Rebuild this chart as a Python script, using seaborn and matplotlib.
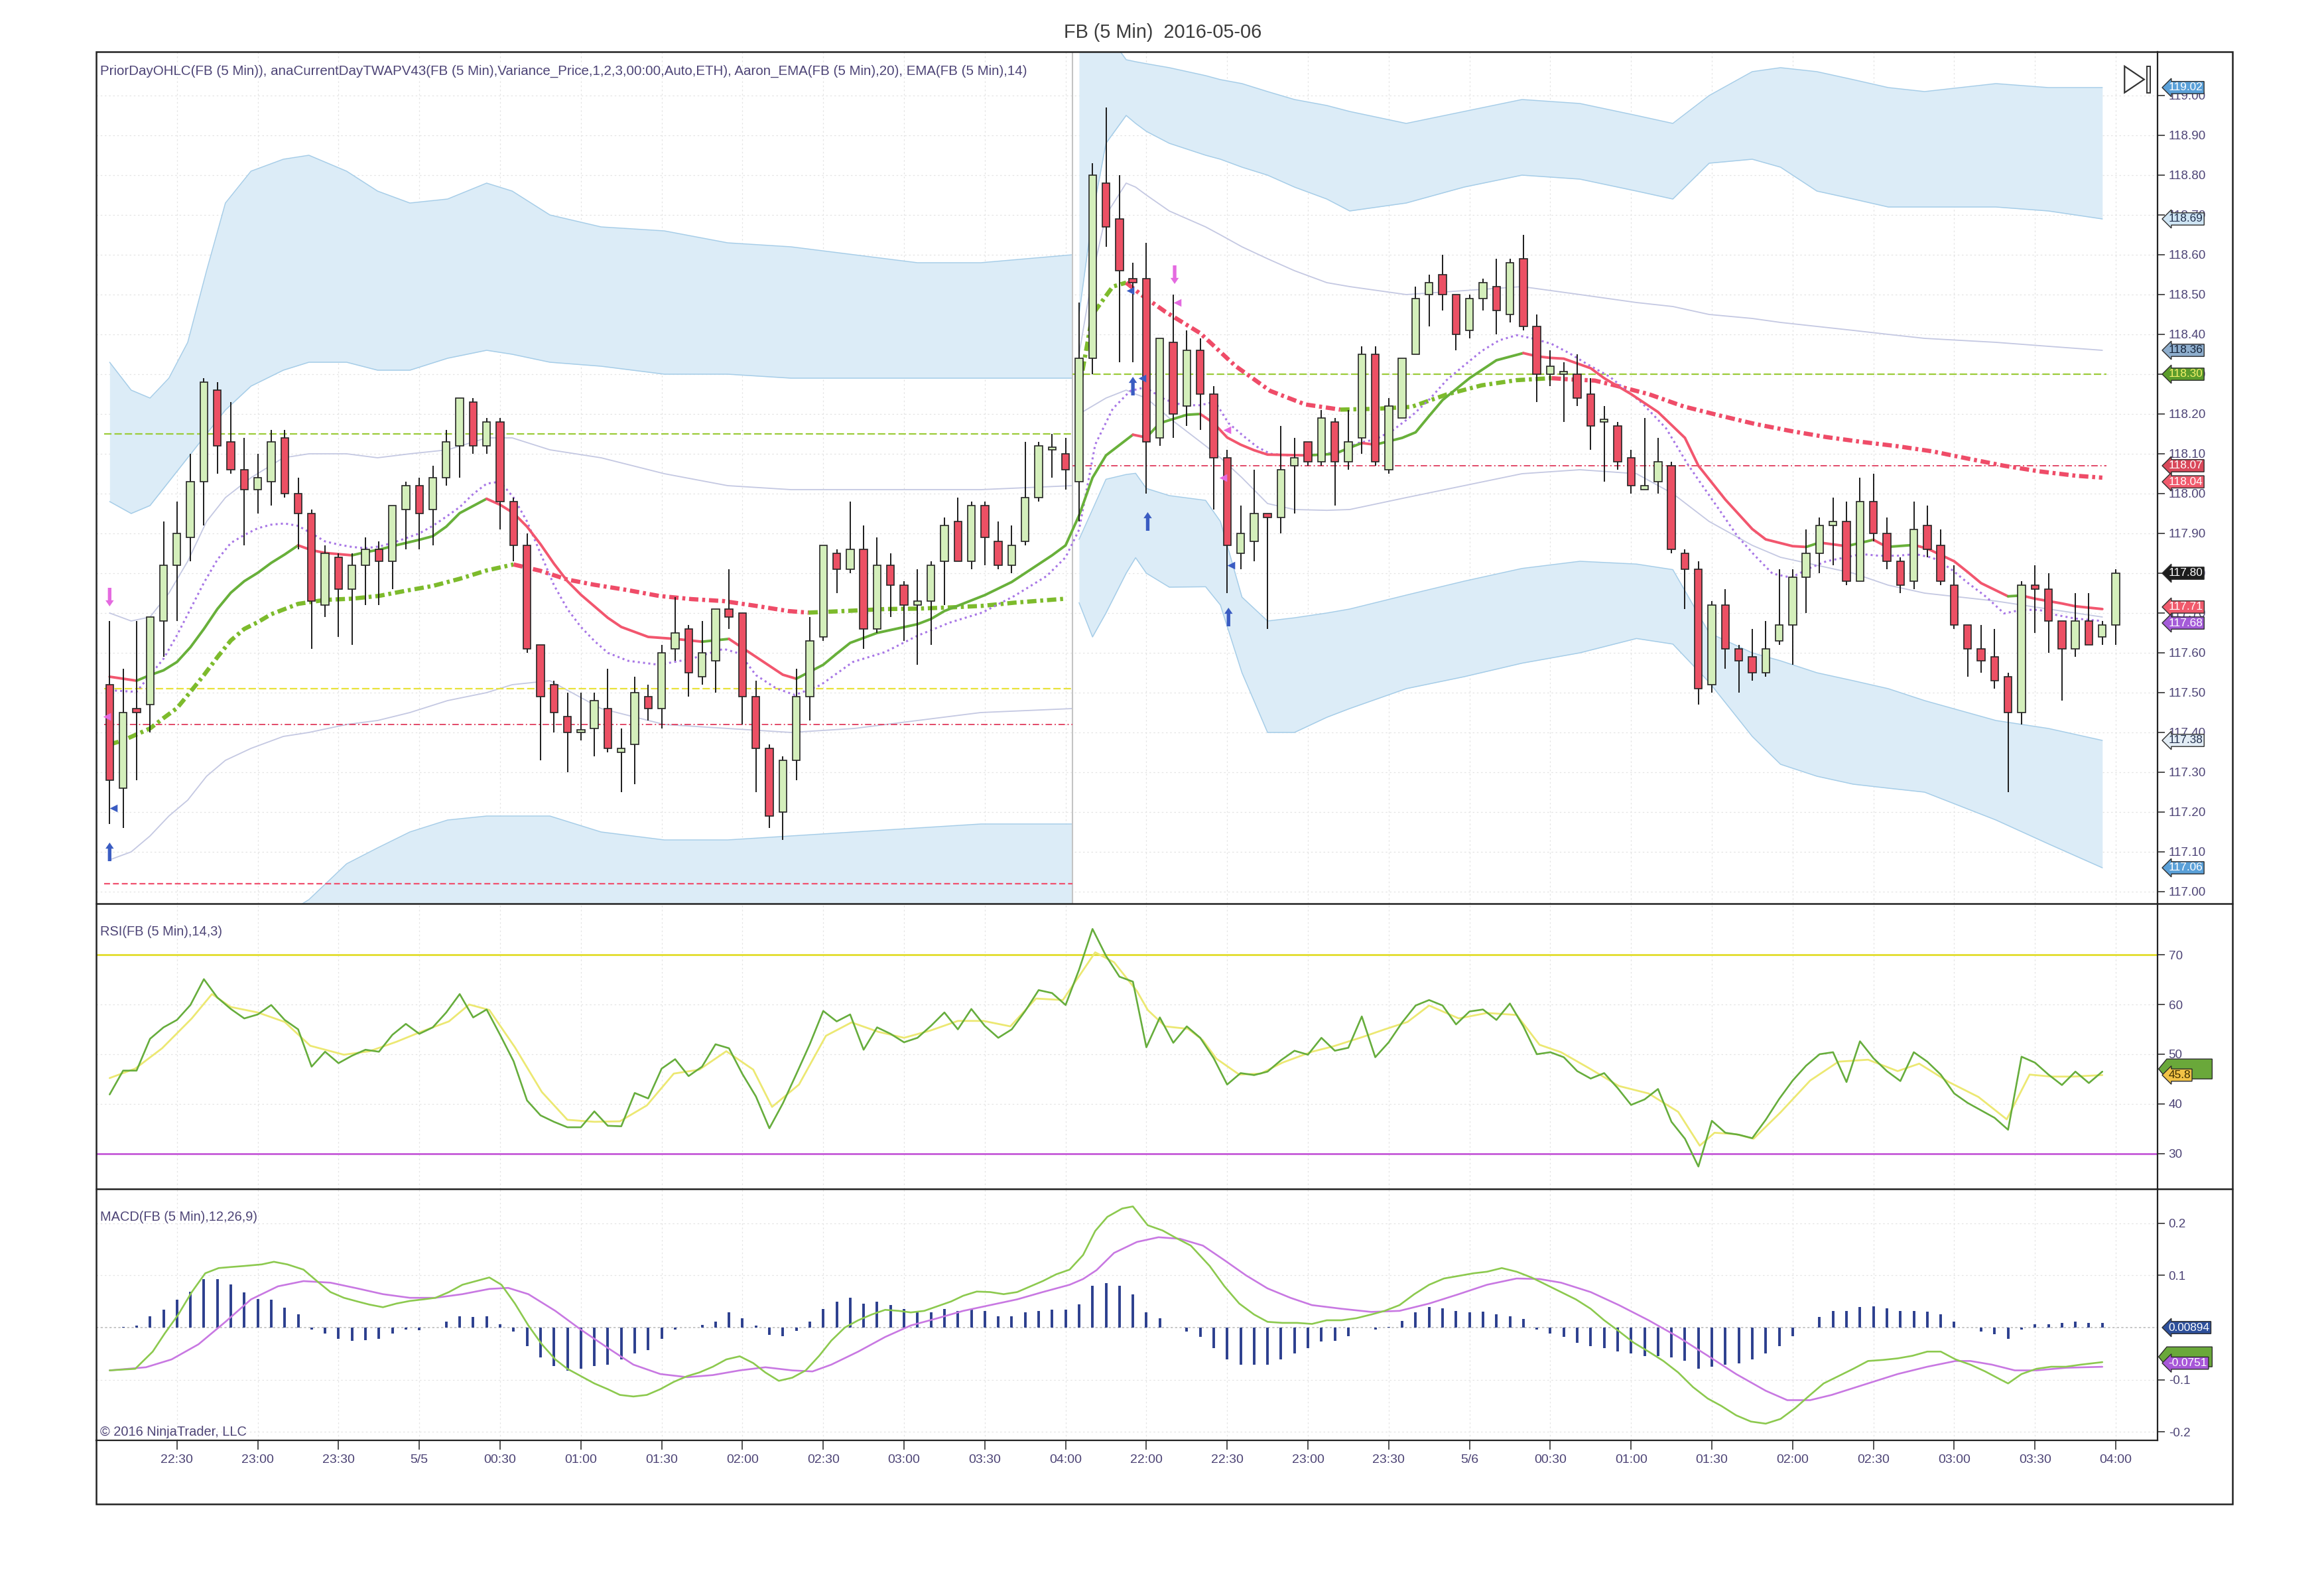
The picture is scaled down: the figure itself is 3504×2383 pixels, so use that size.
import numpy as np
import pandas as pd
import matplotlib
matplotlib.use("Agg")
import matplotlib.pyplot as plt
from matplotlib import font_manager
from matplotlib.lines import Line2D
from matplotlib.patches import Rectangle, Polygon
import seaborn as sns

# ---------------- candles: FB 5 min, bars 0-71 = session 1, 72-149 = session 2 ----------------
opens = [117.52, 117.26, 117.46, 117.47, 117.68, 117.82, 117.89, 118.03, 118.26, 118.13,
         118.06, 118.01, 118.03, 118.14, 118.00, 117.95, 117.72, 117.84, 117.76, 117.82,
         117.86, 117.83, 117.96, 118.02, 117.96, 118.04, 118.12, 118.23, 118.12, 118.18,
         117.98, 117.87, 117.62, 117.52, 117.44, 117.40, 117.41, 117.46, 117.35, 117.37,
         117.49, 117.46, 117.61, 117.66, 117.54, 117.58, 117.71, 117.70, 117.49, 117.36,
         117.20, 117.33, 117.49, 117.64, 117.85, 117.81, 117.86, 117.66, 117.82, 117.77,
         117.72, 117.73, 117.83, 117.93, 117.83, 117.97, 117.88, 117.82, 117.88, 117.99,
         118.11, 118.10,
         118.03, 118.34, 118.78, 118.69, 118.54, 118.54, 118.14, 118.38, 118.22, 118.36,
         118.25, 118.09, 117.85, 117.88, 117.95, 117.94, 118.07, 118.13, 118.08, 118.18,
         118.08, 118.14, 118.35, 118.06, 118.19, 118.35, 118.50, 118.55, 118.50, 118.41,
         118.49, 118.52, 118.45, 118.59, 118.42, 118.30, 118.30, 118.30, 118.25, 118.18,
         118.17, 118.09, 118.01, 118.03, 118.07, 117.85, 117.81, 117.52, 117.72, 117.61,
         117.59, 117.55, 117.63, 117.67, 117.79, 117.85, 117.92, 117.93, 117.78, 117.98,
         117.90, 117.83, 117.78, 117.92, 117.87, 117.77, 117.67, 117.61, 117.59, 117.54,
         117.45, 117.77, 117.76, 117.68, 117.61, 117.68, 117.64, 117.67]
highs = [117.68, 117.56, 117.68, 117.69, 117.93, 117.98, 118.10, 118.29, 118.28, 118.23,
         118.14, 118.10, 118.16, 118.16, 118.04, 117.96, 117.87, 117.85, 117.85, 117.89,
         117.88, 117.97, 118.03, 118.04, 118.07, 118.16, 118.24, 118.24, 118.19, 118.19,
         117.99, 117.90, 117.62, 117.53, 117.50, 117.50, 117.50, 117.56, 117.41, 117.54,
         117.52, 117.62, 117.74, 117.67, 117.68, 117.71, 117.81, 117.70, 117.53, 117.37,
         117.34, 117.56, 117.69, 117.87, 117.86, 117.98, 117.92, 117.89, 117.85, 117.78,
         117.81, 117.83, 117.94, 117.99, 117.98, 117.98, 117.93, 117.92, 118.13, 118.13,
         118.15, 118.14,
         118.48, 118.83, 118.97, 118.80, 118.58, 118.63, 118.39, 118.50, 118.41, 118.39,
         118.27, 118.11, 117.97, 118.06, 117.95, 118.17, 118.14, 118.13, 118.21, 118.19,
         118.21, 118.37, 118.37, 118.24, 118.34, 118.52, 118.55, 118.60, 118.50, 118.50,
         118.54, 118.59, 118.59, 118.65, 118.45, 118.36, 118.33, 118.35, 118.29, 118.22,
         118.18, 118.11, 118.19, 118.14, 118.08, 117.86, 117.83, 117.73, 117.76, 117.62,
         117.66, 117.68, 117.81, 117.81, 117.91, 117.94, 117.99, 117.98, 118.04, 118.05,
         117.94, 117.84, 117.98, 117.97, 117.91, 117.82, 117.67, 117.67, 117.66, 117.55,
         117.78, 117.82, 117.80, 117.68, 117.75, 117.75, 117.68, 117.81]
lows = [117.17, 117.16, 117.28, 117.40, 117.59, 117.68, 117.83, 117.92, 118.05, 118.05,
        117.87, 117.95, 117.97, 117.99, 117.86, 117.61, 117.69, 117.64, 117.62, 117.72,
        117.72, 117.76, 117.86, 117.86, 117.87, 118.02, 118.04, 118.10, 118.10, 117.91,
        117.83, 117.60, 117.33, 117.40, 117.30, 117.38, 117.34, 117.35, 117.25, 117.27,
        117.43, 117.41, 117.58, 117.49, 117.52, 117.50, 117.66, 117.42, 117.25, 117.16,
        117.13, 117.28, 117.43, 117.63, 117.75, 117.80, 117.61, 117.65, 117.69, 117.63,
        117.57, 117.62, 117.72, 117.83, 117.81, 117.82, 117.81, 117.80, 117.87, 117.98,
        118.04, 118.01,
        117.93, 118.30, 118.62, 118.33, 118.33, 118.00, 118.12, 118.14, 118.17, 118.16,
        117.96, 117.75, 117.81, 117.83, 117.66, 117.90, 117.95, 118.07, 118.07, 117.97,
        118.06, 118.10, 118.07, 118.05, 118.19, 118.35, 118.42, 118.46, 118.36, 118.39,
        118.46, 118.40, 118.43, 118.41, 118.23, 118.27, 118.18, 118.22, 118.11, 118.03,
        118.06, 118.00, 118.01, 118.00, 117.85, 117.71, 117.47, 117.50, 117.56, 117.50,
        117.53, 117.54, 117.62, 117.57, 117.70, 117.80, 117.82, 117.77, 117.78, 117.88,
        117.81, 117.75, 117.76, 117.84, 117.77, 117.66, 117.54, 117.55, 117.51, 117.25,
        117.42, 117.65, 117.60, 117.48, 117.59, 117.62, 117.62, 117.62]
closes = [117.28, 117.45, 117.45, 117.69, 117.82, 117.90, 118.03, 118.28, 118.12, 118.06,
          118.01, 118.04, 118.13, 118.00, 117.95, 117.73, 117.85, 117.76, 117.82, 117.86,
          117.83, 117.97, 118.02, 117.95, 118.04, 118.13, 118.24, 118.12, 118.18, 117.98,
          117.87, 117.61, 117.49, 117.45, 117.40, 117.40, 117.48, 117.36, 117.36, 117.50,
          117.46, 117.60, 117.65, 117.55, 117.60, 117.71, 117.69, 117.49, 117.36, 117.19,
          117.33, 117.49, 117.63, 117.87, 117.81, 117.86, 117.66, 117.82, 117.77, 117.72,
          117.73, 117.82, 117.92, 117.83, 117.97, 117.89, 117.82, 117.87, 117.99, 118.12,
          118.11, 118.06,
          118.34, 118.80, 118.67, 118.56, 118.53, 118.13, 118.39, 118.20, 118.36, 118.25,
          118.09, 117.87, 117.90, 117.95, 117.94, 118.06, 118.09, 118.08, 118.19, 118.08,
          118.13, 118.35, 118.08, 118.22, 118.34, 118.49, 118.53, 118.50, 118.40, 118.49,
          118.53, 118.46, 118.58, 118.42, 118.30, 118.32, 118.30, 118.24, 118.17, 118.18,
          118.08, 118.02, 118.02, 118.08, 117.86, 117.81, 117.51, 117.72, 117.61, 117.58,
          117.55, 117.61, 117.67, 117.79, 117.85, 117.92, 117.93, 117.78, 117.98, 117.90,
          117.83, 117.77, 117.91, 117.86, 117.78, 117.67, 117.61, 117.58, 117.53, 117.45,
          117.77, 117.76, 117.68, 117.61, 117.68, 117.62, 117.67, 117.80]

# ---------------- price-panel indicators, read as (bar, value) points ----------------
ema20_pts = [(0, 117.54), (2, 117.53), (3, 117.544), (4, 117.556), (5, 117.577), (6, 117.614), (7, 117.66),
             (8, 117.71), (9, 117.751), (10, 117.78), (11, 117.801), (12, 117.826), (13, 117.847), (14, 117.87),
             (15, 117.858), (16, 117.851), (18, 117.845), (19, 117.853), (20, 117.859), (21, 117.868),
             (23, 117.884), (24, 117.893), (25, 117.917), (26, 117.951), (28, 117.987), (29, 117.972),
             (30, 117.951), (31, 117.917), (32, 117.873), (33, 117.824), (34, 117.78), (35, 117.746),
             (36, 117.717), (37, 117.688), (38, 117.665), (40, 117.64), (42, 117.635), (44, 117.628),
             (46, 117.635), (48, 117.59), (50, 117.545), (51, 117.535), (53, 117.57), (54, 117.598),
             (55, 117.625), (57, 117.65), (60, 117.672), (61, 117.685), (62, 117.705), (65, 117.745),
             (67, 117.778), (70, 117.845), (71, 117.87), (72, 117.945), (73, 118.04), (74, 118.096),
             (76, 118.148), (77, 118.141), (78, 118.177), (80, 118.198), (81, 118.2), (82, 118.177),
             (83, 118.141), (84, 118.123), (85, 118.109), (86, 118.098), (89, 118.096), (91, 118.1),
             (92, 118.114), (93, 118.127), (94, 118.123), (96, 118.14), (97, 118.154), (98, 118.195),
             (99, 118.235), (101, 118.29), (103, 118.335), (105, 118.353), (106, 118.345), (107, 118.341),
             (108, 118.339), (110, 118.315), (111, 118.29), (113, 118.25), (115, 118.205), (117, 118.14),
             (118, 118.07), (120, 117.985), (122, 117.911), (123, 117.885), (125, 117.868), (126, 117.866),
             (127, 117.877), (129, 117.868), (131, 117.884), (132, 117.866), (134, 117.871), (135, 117.862),
             (137, 117.83), (138, 117.803), (139, 117.775), (141, 117.742), (142, 117.744), (143, 117.736),
             (145, 117.724), (146, 117.717), (148, 117.71)]
ema14_pts = [(0, 117.506), (2, 117.502), (3, 117.544), (4, 117.585), (5, 117.644), (6, 117.71), (7, 117.776),
             (8, 117.834), (9, 117.876), (10, 117.896), (11, 117.913), (12, 117.922), (13, 117.925),
             (14, 117.919), (15, 117.9), (16, 117.88), (17, 117.872), (18, 117.866), (19, 117.863),
             (20, 117.867), (21, 117.876), (22, 117.888), (23, 117.9), (24, 117.919), (25, 117.942),
             (26, 117.966), (27, 117.999), (28, 118.025), (29, 118.03), (30, 117.99), (31, 117.93),
             (32, 117.85), (33, 117.77), (34, 117.71), (35, 117.665), (36, 117.63), (37, 117.6),
             (38.5, 117.58), (40.8, 117.57), (43.2, 117.585), (45.6, 117.61), (46.8, 117.598), (48, 117.544),
             (49.5, 117.511), (50.9, 117.494), (52.8, 117.519), (55.2, 117.577), (57.6, 117.602), (60, 117.643),
             (62.4, 117.676), (64.8, 117.701), (67.2, 117.743), (69.6, 117.793), (71, 117.84), (72, 117.909),
             (73.2, 118.123), (74.5, 118.213), (75.8, 118.258), (76.9, 118.267), (78.4, 118.236),
             (79.7, 118.222), (81, 118.222), (82.1, 118.231), (83.1, 118.177), (84.2, 118.145), (85.2, 118.118),
             (86.2, 118.1), (87.5, 118.096), (88.8, 118.096), (90.1, 118.1), (91.4, 118.105), (92.7, 118.127),
             (94, 118.136), (95.3, 118.159), (96.7, 118.195), (98, 118.236), (99.3, 118.285), (100.6, 118.322),
             (101.9, 118.358), (103.2, 118.385), (104.5, 118.398), (105.8, 118.389), (107.1, 118.376),
             (108.4, 118.353), (109.7, 118.326), (111.4, 118.294), (113.8, 118.228), (115.6, 118.164),
             (117.2, 118.074), (118.3, 118.02), (119.6, 117.957), (120.9, 117.893), (122.2, 117.844),
             (123.5, 117.799), (124.9, 117.789), (126.2, 117.812), (127.5, 117.83), (128.8, 117.839),
             (130.1, 117.848), (131.4, 117.844), (132.8, 117.844), (134.1, 117.848), (135.4, 117.839),
             (136.7, 117.812), (138, 117.776), (139.4, 117.74), (140.7, 117.699), (142, 117.708),
             (143.3, 117.708), (144.6, 117.695), (146, 117.686), (148, 117.68)]
vwap1_pts = [(0, 117.37), (1, 117.38), (2, 117.395), (3, 117.41), (4, 117.436), (5, 117.461), (6, 117.502),
             (7, 117.544), (8, 117.589), (9, 117.631), (10, 117.66), (11, 117.677), (12, 117.697), (13, 117.71),
             (14, 117.723), (16, 117.733), (18, 117.736), (20, 117.743), (22, 117.756), (24, 117.768),
             (26, 117.786), (28, 117.807), (30, 117.822), (32, 117.806), (34, 117.784), (36, 117.771),
             (38.4, 117.758), (40.8, 117.743), (43.2, 117.735), (45.6, 117.73), (48, 117.718), (50.4, 117.705),
             (51.9, 117.701), (55.2, 117.706), (57.6, 117.71), (60, 117.711), (62.4, 117.714), (64.8, 117.718),
             (67.2, 117.726), (71, 117.736)]
vwap2_pts = [(72, 118.26), (73, 118.45), (74.5, 118.52), (75.5, 118.53), (76.6, 118.5), (78.4, 118.457),
             (81, 118.403), (83.6, 118.321), (86.2, 118.258), (88.8, 118.224), (91.4, 118.211), (94, 118.213),
             (96.7, 118.218), (99.3, 118.249), (101.9, 118.272), (104.5, 118.285), (107.1, 118.29),
             (108.4, 118.287), (110.3, 118.284), (111.9, 118.271), (114.3, 118.25), (116.9, 118.219),
             (119.6, 118.196), (122.2, 118.175), (124.9, 118.157), (127.5, 118.142), (130.1, 118.13),
             (132.8, 118.119), (135.4, 118.106), (138, 118.088), (140.7, 118.07), (143.3, 118.056),
             (146, 118.045), (148, 118.04)]

# variance bands around the session VWAP (outer shaded band + thin inner lines)
band1_x = [0, 1.6, 3, 4.4, 5.8, 7.2, 8.6, 10.5, 12.9, 14.8, 17.6, 19.9, 22.3, 25.1, 28, 29.9, 32.7, 36.5,
           41.2, 45.9, 50.6, 55.3, 60, 64.7, 71.5]
band1_up3 = [118.33, 118.26, 118.24, 118.29, 118.38, 118.56, 118.73, 118.81, 118.84, 118.85, 118.81, 118.76,
             118.73, 118.74, 118.78, 118.76, 118.70, 118.67, 118.66, 118.63, 118.62, 118.60, 118.58, 118.58, 118.60]
band1_up2 = [117.98, 117.95, 117.97, 118.03, 118.09, 118.15, 118.21, 118.27, 118.31, 118.33, 118.33, 118.31,
             118.31, 118.34, 118.36, 118.35, 118.33, 118.32, 118.30, 118.30, 118.29, 118.29, 118.29, 118.29, 118.29]
band1_up1 = [117.70, 117.68, 117.69, 117.75, 117.83, 117.93, 117.99, 118.04, 118.09, 118.10, 118.10, 118.09,
             118.10, 118.11, 118.14, 118.14, 118.11, 118.09, 118.05, 118.02, 118.01, 118.01, 118.01, 118.01, 118.02]
band1_lo1 = [117.08, 117.10, 117.14, 117.19, 117.23, 117.29, 117.33, 117.36, 117.39, 117.40, 117.42, 117.43,
             117.45, 117.48, 117.50, 117.52, 117.53, 117.46, 117.42, 117.41, 117.40, 117.41, 117.43, 117.45, 117.46]
band1_lo2 = [116.70, 116.71, 116.72, 116.74, 116.76, 116.79, 116.83, 116.88, 116.94, 116.98, 117.07, 117.11,
             117.15, 117.18, 117.19, 117.19, 117.19, 117.15, 117.13, 117.13, 117.14, 117.15, 117.16, 117.17, 117.17]
band1_lo3 = [116.40, 116.40, 116.40, 116.40, 116.40, 116.40, 116.40, 116.42, 116.45, 116.48, 116.55, 116.60,
             116.63, 116.66, 116.68, 116.68, 116.67, 116.64, 116.62, 116.61, 116.61, 116.62, 116.62, 116.63, 116.64]
band2_x = [72, 73, 74, 75.5, 76.2, 77, 78.7, 81.4, 82.5, 84.1, 86, 88, 90.4, 92.1, 96.3, 100.6, 104.9, 109.2,
           113.4, 116.1, 118.8, 122, 124.1, 126.8, 129.5, 132.1, 134.8, 140.1, 144, 148]
band2_up3 = [119.25, 119.22, 119.16, 119.09, 119.085, 119.08, 119.07, 119.05, 119.04, 119.03, 119.01, 118.99,
             118.975, 118.96, 118.93, 118.96, 118.99, 118.98, 118.95, 118.93, 119.00, 119.06, 119.07, 119.06,
             119.04, 119.02, 119.01, 119.03, 119.02, 119.02]
band2_up2 = [118.45, 118.70, 118.88, 118.95, 118.93, 118.91, 118.88, 118.85, 118.84, 118.82, 118.80, 118.77,
             118.74, 118.71, 118.73, 118.77, 118.80, 118.79, 118.76, 118.74, 118.83, 118.84, 118.82, 118.76,
             118.74, 118.72, 118.72, 118.72, 118.71, 118.69]
band2_up1 = [118.35, 118.55, 118.70, 118.78, 118.77, 118.75, 118.71, 118.67, 118.65, 118.62, 118.59, 118.56,
             118.53, 118.52, 118.50, 118.51, 118.52, 118.50, 118.48, 118.47, 118.45, 118.44, 118.43, 118.42,
             118.41, 118.40, 118.39, 118.38, 118.37, 118.36]
band2_lo1 = [118.20, 118.22, 118.24, 118.26, 118.25, 118.24, 118.19, 118.12, 118.09, 118.04, 117.975, 117.96,
             117.958, 117.96, 117.99, 118.02, 118.05, 118.06, 118.05, 118.00, 117.93, 117.87, 117.84, 117.82,
             117.80, 117.77, 117.75, 117.73, 117.71, 117.69]
band2_lo2 = [117.885, 117.96, 118.036, 118.048, 118.051, 118.013, 117.995, 117.983, 117.93, 117.74, 117.68,
             117.688, 117.70, 117.71, 117.745, 117.78, 117.812, 117.83, 117.823, 117.809, 117.65, 117.60, 117.58,
             117.55, 117.53, 117.51, 117.48, 117.43, 117.41, 117.38]
band2_lo3 = [117.726, 117.64, 117.70, 117.80, 117.839, 117.80, 117.765, 117.766, 117.72, 117.55, 117.40, 117.40,
             117.438, 117.46, 117.51, 117.54, 117.574, 117.60, 117.636, 117.622, 117.526, 117.39, 117.32, 117.29,
             117.27, 117.26, 117.25, 117.18, 117.12, 117.06]

# prior day levels: (price, first bar, last bar)
prior_high = [(118.15, -0.4, 71.5), (118.30, 71.5, 148.3)]
prior_open = [(117.51, -0.4, 71.5)]
prior_close = [(117.42, -0.4, 71.5), (118.07, 71.5, 148.3)]
prior_low = [(117.02, -0.4, 71.5)]

# signal markers (bar, price)
up_arrows = [(0, 117.10), (76.0, 118.27), (77.1, 117.93), (83.1, 117.69)]
down_arrows = [(0, 117.74), (79.1, 118.55)]
blue_ticks = [(0.3, 117.21), (75.8, 118.51), (76.7, 118.29), (83.3, 117.82)]
pink_ticks = [(-0.2, 117.44), (79.3, 118.48), (83.0, 118.16), (82.7, 118.04)]

# ---------------- RSI(14,3) ----------------
rsi = [41.9, 46.7, 46.7, 53.1, 55.4, 56.9, 59.9, 65.1, 61.4, 59.1,
       57.2, 58.0, 59.9, 56.9, 55.0, 47.5, 50.5, 48.2, 49.7, 50.9,
       50.5, 53.9, 56.1, 54.1, 55.4, 58.4, 62.1, 57.4, 59.0, 53.9,
       48.6, 40.7, 37.7, 36.4, 35.3, 35.3, 38.5, 35.6, 35.5, 42.2,
       41.1, 47.1, 49.0, 45.6, 47.5, 52.0, 51.2, 46.0, 41.5, 35.1,
       40.1, 46.0, 52.0, 58.7, 56.6, 58.0, 50.9, 55.4, 54.1, 52.4,
       53.3, 55.7, 58.4, 55.0, 59.1, 55.7, 53.3, 55.0, 58.7, 62.9,
       62.3, 59.9, 67.0, 75.2, 69.8, 65.6, 64.6, 51.4, 57.4, 52.3,
       55.6, 53.3, 49.2, 43.9, 46.2, 45.8, 46.5, 48.8, 50.7, 49.9,
       53.3, 50.7, 51.3, 57.6, 49.4, 52.4, 56.4, 59.8, 60.9, 59.8,
       56.0, 58.6, 59.0, 56.9, 60.2, 55.6, 50.0, 50.4, 49.4, 46.6,
       45.1, 46.2, 43.2, 39.8, 40.9, 43.0, 36.4, 33.0, 27.4, 36.6,
       34.2, 33.8, 33.1, 36.8, 41.0, 44.7, 47.7, 50.0, 50.4, 44.4,
       52.6, 49.2, 46.6, 44.6, 50.4, 48.5, 45.9, 42.1, 40.2, 38.7,
       37.2, 34.8, 49.5, 48.3, 45.9, 43.8, 46.5, 44.2, 46.5]
rsi_avg_pts = [(0, 45.2), (1.9, 47.1), (3.9, 51.2), (6.1, 57.2), (7.6, 62.1), (9, 59.5), (11, 58.4), (13, 56.5),
               (14.9, 51.7), (17.4, 49.9), (19.3, 50.6), (21.3, 52.5), (23.3, 54.7), (25.2, 56.6), (26.7, 60.0),
               (28.2, 58.9), (30.1, 51.4), (32.1, 42.4), (34, 36.8), (36, 36.4), (37.9, 36.5), (39.9, 39.7),
               (41.9, 46.1), (43.8, 46.9), (45.8, 50.6), (47.8, 46.9), (49.2, 39.4), (51.2, 43.9), (53.2, 53.7),
               (55.1, 56.4), (57.1, 54.5), (59, 53.3), (61, 54.8), (63, 56.7), (64.9, 56.7), (66.9, 55.6),
               (68.8, 61.2), (70.8, 60.9), (73.2, 70.5), (74.6, 68.5), (76.3, 62.7), (77.1, 58.9), (78.4, 55.6),
               (80.1, 55.1), (81.2, 52.8), (82.2, 49.1), (83.9, 45.9), (85.5, 46.1), (87.1, 48.3), (89.3, 50.5),
               (90.9, 51.6), (93.1, 53.5), (94.7, 55.0), (96.4, 56.5), (98, 59.8), (100.2, 57.2), (102.3, 58.3),
               (104.5, 57.9), (106.2, 51.9), (107.8, 50.4), (110, 47.0), (112.1, 43.6), (114.3, 42.1),
               (116.5, 38.4), (118.1, 31.6), (119.2, 34.2), (120.8, 33.9), (122.1, 33.0), (124.1, 38.3),
               (126.3, 44.7), (128.4, 48.5), (130.6, 48.9), (132.8, 46.6), (134.4, 48.1), (136.6, 44.4),
               (138.8, 41.4), (140.9, 36.9), (142.6, 45.9), (144.2, 45.5), (145.8, 45.5), (148, 45.8)]

# ---------------- MACD(12,26,9) ----------------
macd_pts = [(0, -0.082), (1.9, -0.079), (3.2, -0.046), (4.1, -0.011), (5.1, 0.025), (6.1, 0.068), (7.1, 0.104),
            (8.1, 0.114), (9, 0.116), (10, 0.118), (11.3, 0.121), (12.2, 0.126), (13.2, 0.121), (14.4, 0.111),
            (15.4, 0.089), (16.4, 0.068), (17.4, 0.057), (18.4, 0.05), (19.3, 0.044), (20.3, 0.039),
            (21.3, 0.046), (22.3, 0.051), (23.3, 0.054), (24.2, 0.057), (25.2, 0.068), (26.2, 0.082),
            (27.2, 0.089), (28.2, 0.096), (29.1, 0.082), (30.1, 0.046), (31.1, 0.004), (32.1, -0.032),
            (33.1, -0.061), (34, -0.079), (35, -0.093), (36, -0.107), (37, -0.118), (37.9, -0.129),
            (38.9, -0.132), (39.9, -0.129), (40.9, -0.118), (41.9, -0.104), (42.9, -0.093), (43.8, -0.086),
            (44.8, -0.075), (45.8, -0.061), (46.8, -0.055), (47.8, -0.068), (48.7, -0.086), (49.7, -0.102),
            (50.7, -0.096), (51.7, -0.082), (52.7, -0.054), (53.6, -0.025), (54.6, 0.0), (55.6, 0.014),
            (56.6, 0.025), (57.6, 0.034), (58.6, 0.032), (59.5, 0.029), (60.5, 0.032), (61.5, 0.041),
            (62.5, 0.05), (63.4, 0.061), (64.4, 0.069), (65.4, 0.068), (66.4, 0.064), (67.4, 0.068),
            (68.4, 0.079), (69.3, 0.089), (70.3, 0.102), (71.3, 0.111), (72.3, 0.139), (73.2, 0.185),
            (74.1, 0.212), (75.2, 0.228), (76, 0.232), (77.1, 0.196), (78.2, 0.186), (79.25, 0.171),
            (80.3, 0.157), (81.7, 0.118), (82.8, 0.079), (83.9, 0.046), (85, 0.025), (86, 0.011), (87.1, 0.009),
            (88.2, 0.009), (89.3, 0.007), (90.4, 0.014), (91.5, 0.014), (92.6, 0.018), (93.7, 0.025),
            (94.7, 0.032), (95.8, 0.043), (96.9, 0.064), (98, 0.082), (99.1, 0.094), (100.2, 0.099),
            (101.3, 0.104), (102.3, 0.107), (103.4, 0.114), (104.5, 0.107), (105.6, 0.096), (106.7, 0.082),
            (107.8, 0.068), (108.9, 0.054), (110, 0.036), (111, 0.014), (112.1, -0.007), (113.2, -0.029),
            (114.3, -0.046), (115.4, -0.064), (116.5, -0.086), (117.6, -0.114), (118.7, -0.136),
            (119.7, -0.15), (120.8, -0.168), (121.9, -0.18), (123, -0.184), (124.1, -0.175), (125.2, -0.154),
            (126.3, -0.129), (127.3, -0.107), (128.4, -0.093), (129.5, -0.079), (130.6, -0.064),
            (131.7, -0.062), (132.8, -0.059), (133.9, -0.054), (135, -0.046), (136, -0.046), (137.1, -0.061),
            (138.2, -0.071), (139.3, -0.084), (140.4, -0.099), (141, -0.107), (142, -0.089), (143.1, -0.079),
            (144.2, -0.075), (145.3, -0.075), (146.4, -0.071), (148, -0.0662)]
macd_avg_pts = [(0, -0.082), (2.7, -0.076), (4.6, -0.061), (6.6, -0.032), (8.6, 0.011), (10.5, 0.054),
                (12.5, 0.079), (14.4, 0.089), (16.4, 0.086), (18.4, 0.075), (20.3, 0.064), (22.3, 0.057),
                (24.2, 0.057), (26.2, 0.064), (28.2, 0.074), (29.6, 0.076), (31.1, 0.064), (33.1, 0.032),
                (35, -0.004), (37, -0.039), (38.9, -0.071), (40.9, -0.089), (42.9, -0.095), (44.8, -0.091),
                (46.8, -0.082), (48.7, -0.076), (50.7, -0.082), (52.2, -0.084), (53.6, -0.071), (55.6, -0.046),
                (57.6, -0.018), (59.5, 0.004), (61.5, 0.018), (63.4, 0.032), (65.4, 0.043), (67.4, 0.054),
                (69.3, 0.068), (71.3, 0.082), (72.3, 0.093), (73.3, 0.11), (74.6, 0.143), (76.3, 0.164),
                (77.9, 0.173), (79.5, 0.17), (81.2, 0.157), (82.8, 0.129), (84.4, 0.1), (86, 0.075), (87.7, 0.057),
                (89.3, 0.043), (91.5, 0.036), (93.7, 0.03), (95.8, 0.032), (98, 0.046), (100.2, 0.064),
                (102.3, 0.082), (104.5, 0.094), (106.2, 0.093), (107.8, 0.086), (110, 0.068), (112.1, 0.043),
                (114.3, 0.014), (116.5, -0.018), (118.7, -0.054), (120.8, -0.089), (123, -0.121), (124.6, -0.139),
                (126.3, -0.139), (127.9, -0.129), (130.1, -0.111), (132.8, -0.089), (135, -0.075), (137.1, -0.064),
                (138.2, -0.064), (139.8, -0.071), (141.5, -0.082), (143.1, -0.082), (145.3, -0.077), (148, -0.0751)]
macd_hist = [0.0, 0.001, 0.004, 0.021, 0.034, 0.054, 0.069, 0.093, 0.093, 0.082,
             0.068, 0.055, 0.054, 0.038, 0.025, -0.004, -0.011, -0.021, -0.025, -0.024,
             -0.021, -0.012, -0.004, -0.005, 0.0, 0.012, 0.021, 0.020, 0.021, 0.007,
             -0.007, -0.036, -0.057, -0.074, -0.082, -0.079, -0.074, -0.071, -0.061, -0.050,
             -0.043, -0.021, -0.004, 0.0, 0.005, 0.011, 0.029, 0.018, 0.004, -0.014,
             -0.016, -0.006, 0.011, 0.036, 0.050, 0.057, 0.046, 0.050, 0.043, 0.036,
             0.032, 0.029, 0.036, 0.032, 0.036, 0.032, 0.021, 0.021, 0.029, 0.032,
             0.034, 0.034, 0.045, 0.080, 0.085, 0.080, 0.064, 0.029, 0.018, 0.0,
             -0.007, -0.018, -0.039, -0.061, -0.071, -0.071, -0.071, -0.061, -0.050, -0.039,
             -0.027, -0.025, -0.016, 0.0, -0.004, 0.001, 0.013, 0.029, 0.039, 0.037,
             0.032, 0.029, 0.030, 0.025, 0.021, 0.016, -0.004, -0.011, -0.018, -0.029,
             -0.036, -0.039, -0.046, -0.050, -0.054, -0.054, -0.057, -0.064, -0.079, -0.075,
             -0.071, -0.068, -0.061, -0.050, -0.036, -0.016, 0.0, 0.020, 0.032, 0.032,
             0.039, 0.041, 0.037, 0.032, 0.032, 0.030, 0.025, 0.011, 0.0, -0.007,
             -0.013, -0.021, -0.004, 0.007, 0.007, 0.009, 0.011, 0.009, 0.00894]

tick_bars = [5, 11, 17, 23, 29, 35, 41, 47, 53, 59, 65, 71,
             77, 83, 89, 95, 101, 107, 113, 119, 125, 131, 137, 143, 149]
tick_labels = ["22:30", "23:00", "23:30", "5/5", "00:30", "01:00", "01:30", "02:00", "02:30", "03:00", "03:30",
               "04:00", "22:00", "22:30", "23:00", "23:30", "5/6", "00:30", "01:00", "01:30", "02:00", "02:30",
               "03:00", "03:30", "04:00"]

header = ("PriorDayOHLC(FB (5 Min)), anaCurrentDayTWAPV43(FB (5 Min),Variance_Price,1,2,3,00:00,Auto,ETH), "
          "Aaron_EMA(FB (5 Min),20), EMA(FB (5 Min),14)")


def has_font(name):
    try:
        font_manager.findfont(font_manager.FontProperties(family=name), fallback_to_default=False)
        return True
    except ValueError:
        return False


sns.set_theme(style="white")
narrow = has_font("Liberation Sans Narrow")
plt.rcParams["font.family"] = ["Liberation Sans Narrow" if narrow else "Liberation Sans", "DejaVu Sans"]
k = 1.0 if narrow else 0.8
TXT = "#4d4476"

W_PX, H_PX = 3505, 2383
fig = plt.figure(figsize=(W_PX / 100, H_PX / 100), dpi=100)
fig.patch.set_facecolor("white")


def fx(px):
    return px / W_PX


def fy(px):
    return 1 - px / H_PX


L_PX, R_PX = 145, 3253
ax_p = fig.add_axes([fx(L_PX), fy(1362), fx(R_PX - L_PX), fy(78) - fy(1362)])
ax_r = fig.add_axes([fx(L_PX), fy(1792), fx(R_PX - L_PX), fy(1362) - fy(1792)], sharex=ax_p)
ax_m = fig.add_axes([fx(L_PX), fy(2171), fx(R_PX - L_PX), fy(1792) - fy(2171)], sharex=ax_p)

for ax in (ax_p, ax_r, ax_m):
    ax.set_facecolor("white")
    for side in ("top", "left", "bottom"):
        ax.spines[side].set_visible(False)
    ax.spines["right"].set_color("#222222")
    ax.spines["right"].set_linewidth(1.6)
    ax.grid(True, color="#e4e4e4", lw=0.9, ls=(0, (2, 3)))
    ax.set_axisbelow(True)
    ax.yaxis.tick_right()
    ax.tick_params(axis="y", right=True, left=False, labelright=True, labelleft=False, direction="out",
                   length=8, width=1.2, color="#333333", labelsize=17 * k, labelcolor=TXT, pad=4)
ax_m.spines["bottom"].set_visible(True)
ax_m.spines["bottom"].set_color("#222222")
ax_m.spines["bottom"].set_linewidth(1.6)


def slope_runs(pts):
    """split a polyline into runs of rising / falling segments"""
    runs = []
    for (x0, y0), (x1, y1) in zip(pts[:-1], pts[1:]):
        rising = y1 >= y0
        if runs and runs[-1][0] == rising:
            runs[-1][1].append((x1, y1))
        else:
            runs.append([rising, [(x0, y0), (x1, y1)]])
    return runs


# ---- bands ----
for bx, u3, u2, u1, l1, l2, l3 in ((band1_x, band1_up3, band1_up2, band1_up1, band1_lo1, band1_lo2, band1_lo3),
                                   (band2_x, band2_up3, band2_up2, band2_up1, band2_lo1, band2_lo2, band2_lo3)):
    ax_p.fill_between(bx, u2, u3, color="#dcecf7", lw=0, zorder=1)
    ax_p.fill_between(bx, l3, l2, color="#dcecf7", lw=0, zorder=1)
    for edge in (u3, u2, l2, l3):
        ax_p.plot(bx, edge, color="#a6cde8", lw=1.1, zorder=1.5)
    for thin in (u1, l1):
        ax_p.plot(bx, thin, color="#c4c8e2", lw=1.3, zorder=1.5)

ax_p.axvline(71.5, color="#c4c4c4", lw=1.5, zorder=1.6)

# ---- prior day levels ----
for levels, col, ls, lw in ((prior_high, "#9ccc3a", (0, (5, 2)), 1.6),
                            (prior_open, "#e8e23a", (0, (5, 2)), 1.6),
                            (prior_close, "#e24a68", (0, (5, 2, 1, 2)), 1.4),
                            (prior_low, "#f0506e", (0, (4, 2)), 1.6)):
    for price, x0, x1 in levels:
        ax_p.hlines(price, x0, x1, color=col, lw=lw, linestyles=[ls], zorder=2)

# ---- VWAP (thick dash-dot, coloured by slope) ----
for pts in (vwap1_pts, vwap2_pts):
    for rising, seg in slope_runs(pts):
        xs, ys = zip(*seg)
        ax_p.plot(xs, ys, color="#7dbb2c" if rising else "#ef4c68", lw=4.6,
                  ls=(0, (2.2, 0.9, 0.7, 0.9)), zorder=3)

# ---- EMA 14 (dotted purple) ----
e14 = pd.DataFrame(ema14_pts, columns=["bar", "value"])
sns.lineplot(data=e14, x="bar", y="value", ax=ax_p, color="#a877e6", lw=2.2, linestyle=(0, (1, 1.6)),
             estimator=None, sort=False, zorder=4)

# ---- Aaron EMA 20 (solid, coloured by slope) ----
for rising, seg in slope_runs(ema20_pts):
    xs, ys = zip(*seg)
    ax_p.plot(xs, ys, color="#68b03a" if rising else "#f2566e", lw=2.8, zorder=4.5, solid_capstyle="round")

# ---- candles ----
bars = pd.DataFrame({"o": opens, "h": highs, "l": lows, "c": closes})
bars["x"] = np.arange(len(bars))
bars["lo"] = bars[["o", "c"]].min(axis=1)
bars["body"] = (bars.c - bars.o).abs().clip(lower=0.006)
rise = bars.c >= bars.o
ax_p.vlines(bars.x, bars.l, bars.h, color="#1c1c1c", lw=1.4, zorder=6)
ax_p.bar(bars.x[rise], bars.body[rise], bottom=bars.lo[rise], width=0.56, color="#d4efbb",
         edgecolor="#262626", lw=1.2, zorder=7)
ax_p.bar(bars.x[~rise], bars.body[~rise], bottom=bars.lo[~rise], width=0.56, color="#ec5064",
         edgecolor="#262626", lw=1.2, zorder=7)

# ---- signal markers ----
arrow_style = "simple,head_length=0.55,head_width=0.75,tail_width=0.32"
for x, y in up_arrows:
    ax_p.annotate("", xy=(x, y + 0.028), xytext=(x, y - 0.028),
                  arrowprops=dict(arrowstyle=arrow_style, color="#3a5cc2", lw=0, mutation_scale=12), zorder=9)
for x, y in down_arrows:
    ax_p.annotate("", xy=(x, y - 0.028), xytext=(x, y + 0.028),
                  arrowprops=dict(arrowstyle=arrow_style, color="#e46ae0", lw=0, mutation_scale=12), zorder=9)
bt = pd.DataFrame(blue_ticks, columns=["bar", "price"])
pt = pd.DataFrame(pink_ticks, columns=["bar", "price"])
sns.scatterplot(data=bt, x="bar", y="price", ax=ax_p, marker="<", s=70, color="#3a5cc2", lw=0, zorder=9)
sns.scatterplot(data=pt, x="bar", y="price", ax=ax_p, marker="<", s=70, color="#e46ae0", lw=0, zorder=9)

ax_p.set_ylim(116.97, 119.11)
price_ticks = np.round(np.arange(117.0, 119.001, 0.1), 2)
ax_p.set_yticks(price_ticks)
ax_p.set_yticklabels([f"{v:.2f}" for v in price_ticks])

# ---- RSI panel ----
ax_r.axhline(70, color="#e2dd2c", lw=2.0, zorder=2)
ax_r.axhline(30, color="#c55ad8", lw=2.0, zorder=2)
ra = pd.DataFrame(rsi_avg_pts, columns=["bar", "value"])
sns.lineplot(data=ra, x="bar", y="value", ax=ax_r, color="#ece872", lw=2.0, estimator=None, sort=False, zorder=3)
sns.lineplot(x=np.arange(len(rsi)), y=rsi, ax=ax_r, color="#66ad3c", lw=1.9, estimator=None, zorder=4)
ax_r.set_ylim(22.9, 80.3)
ax_r.set_yticks([30, 40, 50, 60, 70])
ax_r.set_yticklabels(["30", "40", "50", "60", "70"])

# ---- MACD panel (the 0 level label sits under the histogram tag, as in the source) ----
ax_m.axhline(0, color="#bdbdbd", lw=1.2, ls=(0, (2, 2)), zorder=2)
ax_m.vlines(np.arange(len(macd_hist)), 0, macd_hist, color="#2c3f8e", lw=2.8, zorder=3)
ma = pd.DataFrame(macd_avg_pts, columns=["bar", "value"])
mc = pd.DataFrame(macd_pts, columns=["bar", "value"])
sns.lineplot(data=ma, x="bar", y="value", ax=ax_m, color="#c878e2", lw=1.9, estimator=None, sort=False, zorder=4)
sns.lineplot(data=mc, x="bar", y="value", ax=ax_m, color="#8cc94e", lw=1.9, estimator=None, sort=False, zorder=5)
ax_m.set_ylim(-0.216, 0.2656)
ax_m.set_yticks([-0.2, -0.1, 0.1, 0.2])
ax_m.set_yticklabels(["-0.2", "-0.1", "0.1", "0.2"])

# ---- shared x axis ----
for ax in (ax_p, ax_r, ax_m):
    ax.set_xlabel("")
    ax.set_ylabel("")
    ax.set_xlim(-1.0, 152.1)
ax_m.set_xticks(tick_bars)
ax_m.set_xticklabels(tick_labels)
for ax in (ax_p, ax_r):
    ax.tick_params(axis="x", bottom=False, labelbottom=False)
ax_m.tick_params(axis="x", bottom=True, direction="out", length=10, width=1.2, color="#333333",
                 labelsize=17.5 * k, labelcolor=TXT, pad=5)


# ---- value tags on the right axis ----
def tag(ax, y, text, fc, tc, z, dy=0):
    ax.annotate(text, xy=(1, y), xycoords=ax.get_yaxis_transform(), xytext=(12, dy),
                textcoords="offset points", ha="left", va="center", fontsize=15.5 * k, color=tc,
                zorder=z, annotation_clip=False,
                bbox=dict(boxstyle="larrow,pad=0.1", fc=fc, ec="#2d2d2d", lw=1.0))


def hidden_tag(ax, y, fc, panel_px, dy_px=0):
    """a tag sitting behind another one: only its coloured edge shows"""
    y0, y1 = ax.get_ylim()
    per_px = (y1 - y0) / panel_px
    yc = y + dy_px * per_px
    h = 15 * per_px
    xs = [1.0005, 1.0045, 1.0265, 1.0265, 1.0045]
    ys = [yc, yc + h, yc + h, yc - h, yc - h]
    ax.add_patch(Polygon(list(zip(xs, ys)), closed=True, fc=fc, ec="#2d2d2d", lw=1.0,
                         transform=ax.get_yaxis_transform(), clip_on=False, zorder=19))


price_tags = [(band2_up3[-1], "#5aa0d8", "white", 0),
              (band2_up2[-1], "#cfe5f4", "#22304d", 0),
              (band2_up1[-1], "#8eaecd", "#17243a", 0),
              (prior_high[-1][0], "#5c9c2c", "#f4f06a", 0),
              (prior_close[-1][0], "#d9485a", "white", 0),
              (vwap2_pts[-1][1], "#f05a6c", "white", -4.5),
              (closes[-1], "#1d1d1d", "white", 0),
              (ema20_pts[-1][1], "#f05a6c", "white", 2.2),
              (ema14_pts[-1][1], "#a45bd8", "white", -2.2),
              (band2_lo2[-1], "#e3edf5", "#22304d", 0),
              (band2_lo3[-1], "#5aa0d8", "white", 0)]
for i, (v, fc, tc, dy) in enumerate(price_tags):
    tag(ax_p, v, f"{v:.2f}", fc, tc, 20 + i, dy)

hidden_tag(ax_r, rsi[-1], "#6aa83a", 430, dy_px=4)
tag(ax_r, ra.value.iloc[-1], f"{ra.value.iloc[-1]:.1f}", "#f1c246", "#3a2e00", 21)
hidden_tag(ax_m, mc.value.iloc[-1], "#6aa83a", 379, dy_px=8)
tag(ax_m, ma.value.iloc[-1], f"{ma.value.iloc[-1]:.4f}", "#a757d8", "white", 21, dy=4)
tag(ax_m, 0.0, f"{macd_hist[-1]:.5f}", "#2d4f9a", "white", 22)

# ---- texts ----
fig.text(fx(1753), fy(49), "FB (5 Min)  2016-05-06", ha="center", va="center", fontsize=26 * k, color="#3c3c3c")
ax_p.text(0.002, 0.977, header, transform=ax_p.transAxes, ha="left", va="center", fontsize=18.5 * k, color=TXT)
ax_r.text(0.002, 0.90, "RSI(FB (5 Min),14,3)", transform=ax_r.transAxes, ha="left", va="center",
          fontsize=18 * k, color=TXT)
ax_m.text(0.002, 0.887, "MACD(FB (5 Min),12,26,9)", transform=ax_m.transAxes, ha="left", va="center",
          fontsize=18 * k, color=TXT)
ax_m.text(0.002, 0.034, "\u00a9 2016 NinjaTrader, LLC", transform=ax_m.transAxes, ha="left", va="center",
          fontsize=18 * k, color=TXT)

# play/end icon, top right of price panel
ax_p.add_patch(Polygon([[0.984, 0.952], [0.984, 0.983], [0.9935, 0.9675]], closed=True, fill=False,
                       ec="#333333", lw=1.6, transform=ax_p.transAxes, zorder=10))
ax_p.add_patch(Rectangle((0.9948, 0.952), 0.0016, 0.031, fill=False, ec="#333333", lw=1.4,
                         transform=ax_p.transAxes, zorder=10))

# ---- frame and panel separators ----
fig.add_artist(Rectangle((fx(145), fy(2267)), fx(3366 - 145), fy(78) - fy(2267), transform=fig.transFigure,
                         fill=False, ec="#222222", lw=1.8))
for ypx in (1362, 1792):
    fig.add_artist(Line2D([fx(145), fx(3366)], [fy(ypx), fy(ypx)], transform=fig.transFigure,
                          color="#222222", lw=1.8))

fig.savefig("out.png", dpi=100, facecolor="white")
